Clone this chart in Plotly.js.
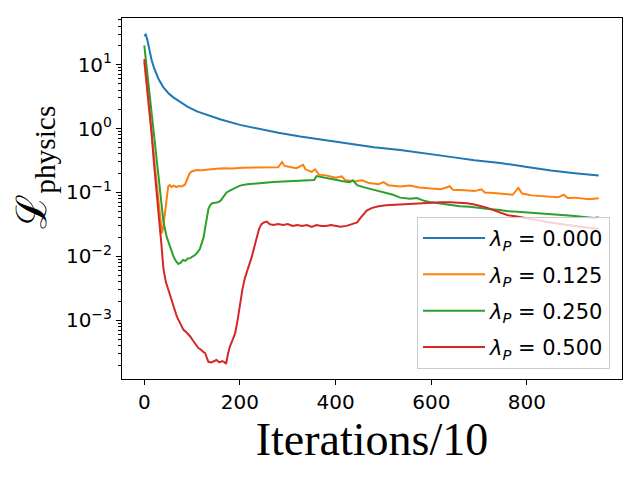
<!DOCTYPE html>
<html>
<head>
<meta charset="utf-8">
<script src="https://cdn.plot.ly/plotly-3.0.1.min.js"></script>
<style>
  html, body { margin: 0; padding: 0; background: #fff; }
  #plot { width: 640px; height: 480px; }
</style>
</head>
<body>
<div id="plot"></div>
<script>
// loss curves (x = iterations / 10)
var seriesNames = ['0.000', '0.125', '0.250', '0.500'];
var seriesColors = ['#1f77b4', '#ff7f0e', '#2ca02c', '#d62728'];

var iterP0 = [0, 3, 6, 10, 15, 20, 25, 30, 40, 50, 60, 75, 90, 110, 130, 160, 200, 240, 280, 326, 380, 430, 480, 535, 590, 640, 690, 744, 800, 850, 900, 950];
var lossP0 = [28, 29.5, 25, 17, 12, 9, 7.2, 5.9, 4.4, 3.6, 3.1, 2.6, 2.2, 1.85, 1.64, 1.38, 1.14, 0.98, 0.86, 0.75, 0.65, 0.57, 0.51, 0.46, 0.40, 0.36, 0.32, 0.29, 0.25, 0.22, 0.20, 0.184];

var iterP1 = [0, 5, 10, 15, 20, 25, 30, 34, 37, 40, 43, 46, 50, 53, 57, 62, 67, 72, 78, 85, 90, 95, 100, 105, 110, 120, 130, 145, 165, 185, 205, 225, 245, 265, 280, 288, 293, 305, 318, 332, 337, 350, 357, 365, 380, 400, 413, 420, 440, 455, 470, 490, 500, 510, 535, 555, 575, 600, 620, 639, 645, 670, 690, 705, 712, 730, 750, 770, 782, 790, 810, 830, 850, 865, 877, 885, 900, 915, 930, 950];
var lossP1 = [11, 5, 2.2, 0.9, 0.38, 0.16, 0.07, 0.035, 0.023, 0.03, 0.045, 0.08, 0.125, 0.13, 0.122, 0.128, 0.121, 0.126, 0.124, 0.132, 0.16, 0.2, 0.215, 0.22, 0.225, 0.222, 0.228, 0.232, 0.238, 0.236, 0.244, 0.246, 0.25, 0.252, 0.248, 0.30, 0.26, 0.25, 0.24, 0.27, 0.23, 0.21, 0.23, 0.19, 0.185, 0.17, 0.178, 0.155, 0.15, 0.155, 0.14, 0.135, 0.145, 0.13, 0.124, 0.128, 0.12, 0.115, 0.112, 0.125, 0.11, 0.108, 0.105, 0.112, 0.1, 0.098, 0.095, 0.092, 0.118, 0.096, 0.09, 0.088, 0.086, 0.084, 0.092, 0.082, 0.083, 0.08, 0.078, 0.081];

var iterP2 = [0, 5, 10, 15, 20, 25, 30, 34, 40, 47, 54, 61, 66, 71, 76, 81, 86, 91, 96, 101, 106, 111, 116, 120, 124, 128, 131, 134, 138, 142, 148, 154, 160, 166, 172, 180, 190, 200, 215, 230, 250, 270, 290, 310, 330, 350, 355, 360, 370, 385, 400, 415, 430, 436, 445, 460, 480, 500, 520, 535, 555, 570, 585, 600, 620, 640, 660, 680, 700, 720, 744, 760, 780, 800, 820, 840, 860, 880, 900, 920, 940, 950];
var lossP2 = [20, 8.9, 4.0, 1.7, 0.75, 0.33, 0.15, 0.077, 0.035, 0.02, 0.014, 0.01, 0.0085, 0.0076, 0.008, 0.0088, 0.0085, 0.0093, 0.0094, 0.0098, 0.0105, 0.0115, 0.013, 0.016, 0.02, 0.03, 0.042, 0.055, 0.064, 0.068, 0.069, 0.07, 0.075, 0.088, 0.1, 0.108, 0.118, 0.128, 0.134, 0.138, 0.143, 0.146, 0.148, 0.15, 0.152, 0.156, 0.157, 0.18, 0.175, 0.165, 0.158, 0.15, 0.145, 0.155, 0.13, 0.12, 0.11, 0.1, 0.092, 0.083, 0.08, 0.082, 0.074, 0.07, 0.067, 0.064, 0.061, 0.06, 0.057, 0.055, 0.053, 0.051, 0.05, 0.049, 0.048, 0.046, 0.045, 0.044, 0.043, 0.042, 0.040, 0.041];

var iterP3 = [0, 5, 10, 15, 20, 25, 30, 35, 40, 45, 50, 54, 60, 65, 68, 72, 76, 82, 88, 96, 102, 108, 113, 118, 123, 127, 131, 134, 140, 145, 151, 157, 163, 168, 171, 175, 179, 184, 190, 195, 200, 205, 210, 214, 220, 225, 230, 235, 240, 245, 250, 256, 262, 270, 280, 290, 300, 310, 320, 330, 340, 350, 360, 370, 380, 390, 400, 410, 423, 435, 445, 452, 458, 465, 475, 490, 505, 520, 540, 560, 580, 600, 620, 640, 660, 675, 690, 705, 716, 730, 745, 760, 779, 800, 820, 848, 870, 900, 930, 950];
var lossP3 = [12.2, 5.5, 2.4, 0.9, 0.3, 0.1, 0.045, 0.018, 0.0065, 0.004, 0.003, 0.0024, 0.0017, 0.0013, 0.00115, 0.001, 0.00085, 0.00071, 0.00065, 0.00056, 0.00048, 0.00042, 0.00037, 0.00035, 0.00032, 0.00031, 0.00026, 0.000225, 0.00022, 0.00023, 0.00024, 0.00022, 0.00023, 0.00022, 0.00021, 0.0003, 0.00039, 0.00048, 0.00063, 0.001, 0.0019, 0.003, 0.0045, 0.0055, 0.0075, 0.01, 0.014, 0.02, 0.027, 0.032, 0.034, 0.035, 0.032, 0.031, 0.032, 0.031, 0.032, 0.03, 0.031, 0.03, 0.031, 0.029, 0.031, 0.03, 0.03, 0.031, 0.03, 0.029, 0.03, 0.032, 0.034, 0.04, 0.046, 0.052, 0.057, 0.061, 0.063, 0.064, 0.065, 0.066, 0.067, 0.069, 0.07, 0.07, 0.069, 0.068, 0.065, 0.061, 0.058, 0.053, 0.048, 0.044, 0.042, 0.039, 0.037, 0.034, 0.032, 0.03, 0.028, 0.027];

var yTickVals = [0.001, 0.01, 0.1, 1, 10];
var yTickText = ['10<sup>\u22123</sup>', '10<sup>\u22122</sup>', '10<sup>\u22121</sup>', '10<sup>0</sup>', '10<sup>1</sup>'];
var xTickVals = [0, 200, 400, 600, 800];

var iters = [iterP0, iterP1, iterP2, iterP3];
var losses = [lossP0, lossP1, lossP2, lossP3];

// minor ticks 2..9 in each decade, like matplotlib's log locator
var minorVals = [];
for (var d = -4; d <= 1; d++) {
  for (var m = 2; m <= 9; m++) minorVals.push(m * Math.pow(10, d));
}

var data = [];
for (var i = 0; i < 4; i++) {
  data.push({
    x: iters[i],
    y: losses[i],
    type: 'scatter',
    mode: 'lines',
    legendgroup: 'g' + i,
    name: '<i>\u03bb</i><sub><i>P</i></sub> = ' + seriesNames[i],
    line: {color: seriesColors[i], width: 2}
  });
}

var layout = {
  width: 640,
  height: 480,
  margin: {l: 122, r: 18, t: 18, b: 101},
  paper_bgcolor: '#ffffff',
  plot_bgcolor: '#ffffff',
  font: {family: 'DejaVu Sans', size: 20, color: '#000'},
  showlegend: true,
  legend: {
    x: 0.976, y: 0.028, xanchor: 'right', yanchor: 'bottom',
    bgcolor: 'rgba(255,255,255,0.8)', bordercolor: '#cccccc', borderwidth: 1,
    font: {family: 'DejaVu Sans', size: 21, color: '#000'},
    itemwidth: 62,
    tracegroupgap: 6
  },
  xaxis: {
    range: [-46.6, 998.7],
    tickvals: xTickVals,
    ticks: 'outside', ticklen: 5, tickwidth: 1, tickcolor: '#000',
    showline: true, mirror: true, linecolor: '#000', linewidth: 1,
    showgrid: false, zeroline: false,
    tickfont: {family: 'DejaVu Sans', size: 20, color: '#000'},
    title: {text: 'Iterations/10', font: {family: 'Liberation Serif', size: 46, color: '#000'}, standoff: 6}
  },
  yaxis: {
    type: 'log',
    range: [-3.917, 1.728],
    tickvals: yTickVals,
    ticktext: yTickText,
    ticks: 'outside', ticklen: 5, tickwidth: 1, tickcolor: '#000',
    minor: {tickvals: minorVals, ticks: 'outside', ticklen: 3, tickcolor: '#000', showgrid: false},
    showline: true, mirror: true, linecolor: '#000', linewidth: 1,
    showgrid: false, zeroline: false,
    tickfont: {family: 'DejaVu Sans', size: 20, color: '#000'}
  },
  annotations: [{
    text: '\u2112<sub>physics</sub>',
    xref: 'paper', yref: 'paper',
    x: -0.174, y: 0.585,
    xanchor: 'center', yanchor: 'middle',
    textangle: -90,
    showarrow: false,
    font: {family: 'Liberation Serif', size: 42, color: '#000'}
  }]
};

Plotly.newPlot('plot', data, layout, {staticPlot: true});
</script>
</body>
</html>
